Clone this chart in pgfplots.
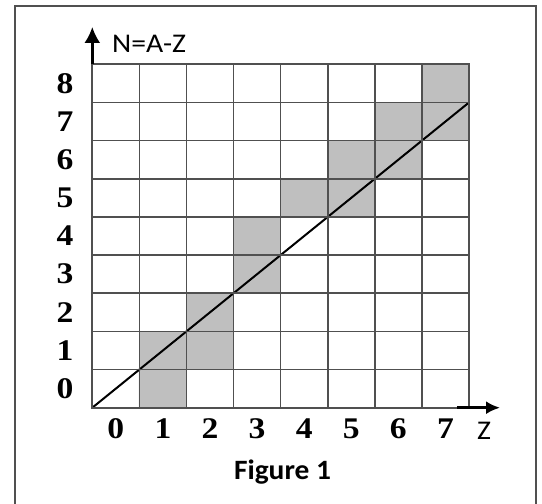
\documentclass[border=0pt]{standalone}
\usepackage{fontspec}
\setmainfont{Liberation Serif}
\newfontfamily\calfont{Carlito}
\usepackage{pgfplots}
\pgfplotsset{compat=1.18}
\usetikzlibrary{arrows.meta}

\definecolor{gridc}{HTML}{505050}
\definecolor{cellc}{HTML}{BFBFBF}

\begin{document}
\begin{tikzpicture}
\useasboundingbox (0,0) rectangle (271pt,252pt);
% outer frame (bottom edge lies outside the picture)
\draw[gridc, line width=1pt] (7.5pt,-5pt) -- (7.5pt,249.15pt) -- (268pt,249.15pt) -- (268pt,-5pt);

\begin{axis}[
    at={(46.15pt,48.15pt)}, anchor=south west,
    scale only axis,
    width=188.35pt, height=171.7pt,
    xmin=-0.5, xmax=7.5,
    ymin=-0.5, ymax=8.5,
    xtick={0,...,7},
    ytick={0,...,8},
    minor xtick={-0.5,0.5,...,7.5},
    minor ytick={-0.5,0.5,...,8.5},
    major tick length=0pt, minor tick length=0pt,
    xminorgrids, yminorgrids,
    minor grid style={gridc, line width=0.85pt},
    axis line style={gridc, line width=0.85pt},
    axis on top,
    /pgf/number format/assume math mode=true,
    ticklabel style={font=\bfseries\fontsize{15}{17}\selectfont, xscale=1.12},
    xticklabel style={anchor=base, yshift=-15.2pt},
    yticklabel style={anchor=center, xshift=-12.15pt},
    colormap={gw}{color=(white) color=(cellc)},
    point meta min=0, point meta max=1,
]
% shaded cells: c=1 where the cell (Z,N) is grey
\addplot[matrix plot*, mesh/cols=8, point meta=explicit, draw=none]
    table[row sep=\\, meta=c] {
    x y c \\
    0 0 0\\ 1 0 1\\ 2 0 0\\ 3 0 0\\ 4 0 0\\ 5 0 0\\ 6 0 0\\ 7 0 0\\
    0 1 0\\ 1 1 1\\ 2 1 1\\ 3 1 0\\ 4 1 0\\ 5 1 0\\ 6 1 0\\ 7 1 0\\
    0 2 0\\ 1 2 0\\ 2 2 1\\ 3 2 0\\ 4 2 0\\ 5 2 0\\ 6 2 0\\ 7 2 0\\
    0 3 0\\ 1 3 0\\ 2 3 0\\ 3 3 1\\ 4 3 0\\ 5 3 0\\ 6 3 0\\ 7 3 0\\
    0 4 0\\ 1 4 0\\ 2 4 0\\ 3 4 1\\ 4 4 0\\ 5 4 0\\ 6 4 0\\ 7 4 0\\
    0 5 0\\ 1 5 0\\ 2 5 0\\ 3 5 0\\ 4 5 1\\ 5 5 1\\ 6 5 0\\ 7 5 0\\
    0 6 0\\ 1 6 0\\ 2 6 0\\ 3 6 0\\ 4 6 0\\ 5 6 1\\ 6 6 1\\ 7 6 0\\
    0 7 0\\ 1 7 0\\ 2 7 0\\ 3 7 0\\ 4 7 0\\ 5 7 0\\ 6 7 1\\ 7 7 1\\
    0 8 0\\ 1 8 0\\ 2 8 0\\ 3 8 0\\ 4 8 0\\ 5 8 0\\ 6 8 0\\ 7 8 1\\
    };
% diagonal line
\addplot[black, line width=1pt, no marks] coordinates {(-0.5,-0.5) (7.5,7.5)};
\end{axis}

% axis arrows
\draw[black, line width=1.2pt, -{Latex[length=8pt,width=8pt]}] (46.15pt,219.85pt) -- (46.15pt,238.5pt);
\draw[black, line width=1.2pt, -{Latex[length=7pt,width=6.5pt]}] (228.5pt,48.15pt) -- (250pt,48.15pt);

\node[anchor=base west, inner sep=0pt, xscale=1.1, font=\calfont\fontsize{13.5}{16}\selectfont] at (55.85pt,225.65pt) {N=A-Z};
\node[anchor=base west, inner sep=0pt, xscale=1.1, font=\calfont\fontsize{13.5}{16}\selectfont] at (238.35pt,32pt) {Z};
\node[anchor=base, inner sep=0pt, xscale=1.05, font=\calfont\bfseries\fontsize{14}{16}\selectfont] at (141.25pt,12.35pt) {Figure 1};
\end{tikzpicture}
\end{document}
